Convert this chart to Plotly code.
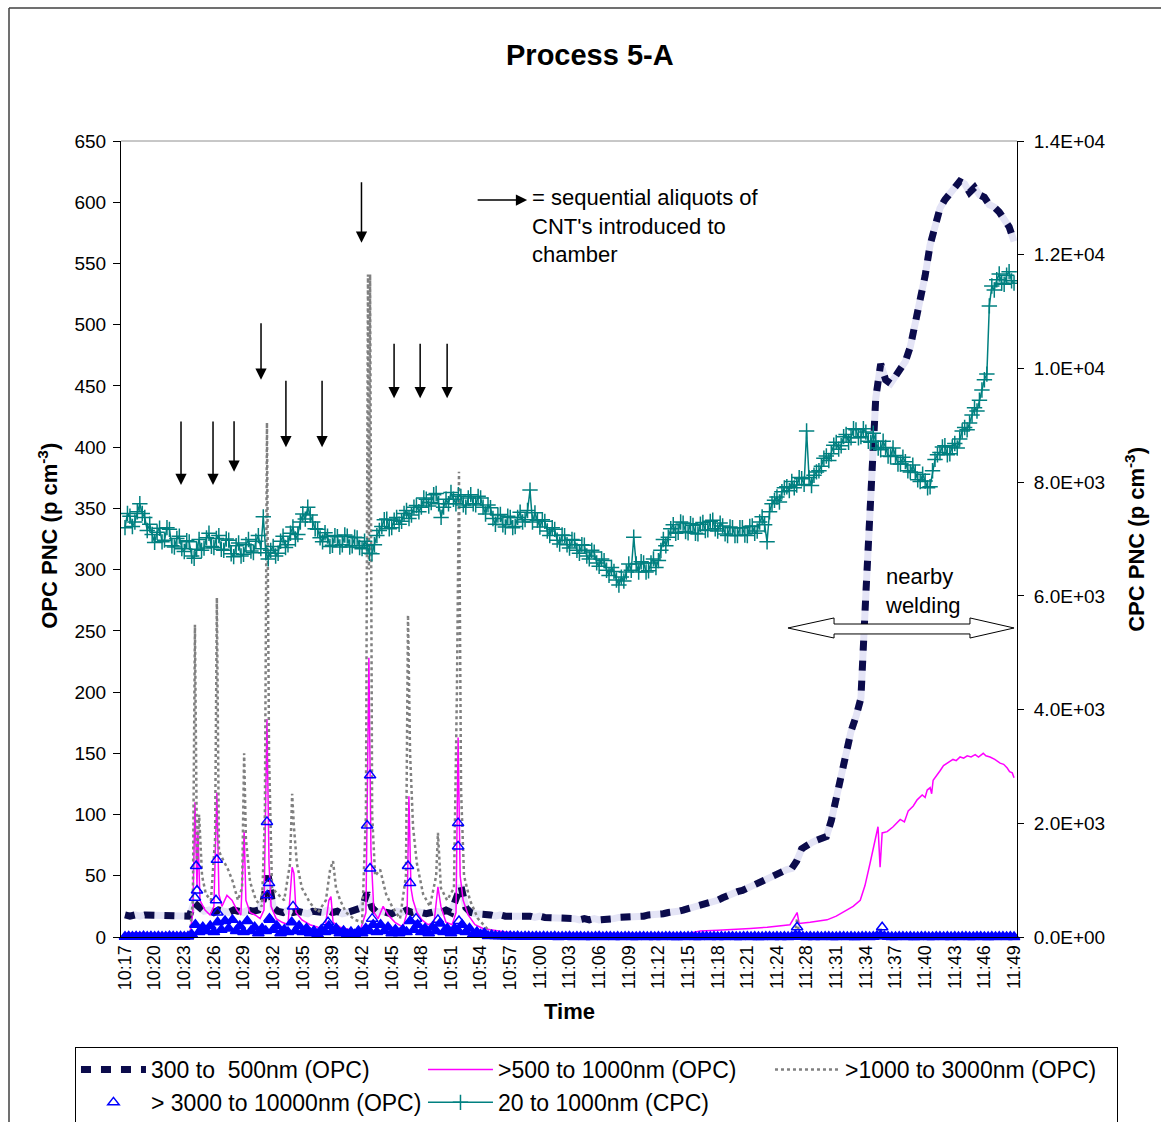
import numpy as np
import plotly.graph_objects as go

# ---------------------------------------------------------------- data
# Category labels of the time axis (one label every tick interval).
TICK_LABELS = ["10:17", "10:20", "10:23", "10:26", "10:29", "10:32", "10:35",
               "10:39", "10:42", "10:45", "10:48", "10:51", "10:54", "10:57",
               "11:00", "11:03", "11:06", "11:09", "11:12", "11:15", "11:18",
               "11:21", "11:24", "11:28", "11:31", "11:34", "11:37", "11:40",
               "11:43", "11:46", "11:49"]

# CPC 20-1000 nm, p/cm3 (12 samples per tick interval)
cpc_20_1000 = [
    7200, 7450, 7400, 7220, 7300, 7480, 7620, 7450, 7380, 7150,
    7260, 7080, 6940, 7120, 7190, 6950, 6980, 7200, 7170, 6880,
    6860, 7010, 7050, 6830, 6780, 6970, 6950, 6700, 6660, 6820,
    6990, 6800, 6840, 7020, 7100, 6870, 6850, 7010, 7060, 6820,
    6800, 7000, 6980, 6740, 6690, 6880, 6930, 6700, 6730, 6900,
    6990, 6790, 6760, 6960, 7060, 6830, 7390, 6760, 6650, 6800,
    6870, 6700, 6750, 6960, 7050, 6850, 6900, 7100, 7210, 7000,
    7080, 7300, 7440, 7350, 7560, 7420, 7300, 7180, 7170, 7020,
    6950, 7110, 7050, 6870, 6890, 7060, 7040, 6860, 6900, 7070,
    7050, 6860, 6880, 7030, 7020, 6850, 6830, 6960, 6880, 6750,
    6740, 6900, 7060, 7150, 7220, 7340, 7350, 7180, 7200, 7330,
    7380, 7260, 7310, 7450, 7500, 7360, 7420, 7560, 7590, 7480,
    7560, 7720, 7700, 7580, 7640, 7780, 7800, 7620, 7380, 7560,
    7700, 7620, 7820, 7700, 7620, 7780, 7750, 7600, 7560, 7720,
    7780, 7620, 7600, 7750, 7720, 7560, 7440, 7600, 7550, 7360,
    7260, 7420, 7430, 7250, 7210, 7400, 7380, 7200, 7220, 7380,
    7470, 7300, 7340, 7500, 7860, 7300, 7460, 7330, 7210, 7340,
    7310, 7140, 7060, 7200, 7170, 6980, 6910, 7070, 7060, 6900,
    6840, 6990, 6980, 6800, 6750, 6900, 6890, 6700, 6650, 6800,
    6770, 6580, 6520, 6650, 6620, 6450, 6360, 6500, 6430, 6280,
    6190, 6330, 6260, 6420, 6560, 6450, 7030, 6560, 6420, 6600,
    6580, 6420, 6440, 6580, 6650, 6500, 6620, 6800, 6990, 6880,
    7030, 7180, 7250, 7100, 7120, 7300, 7280, 7130, 7110, 7270,
    7240, 7100, 7090, 7260, 7290, 7150, 7160, 7310, 7330, 7180,
    7140, 7280, 7230, 7090, 7060, 7210, 7200, 7060, 7060, 7200,
    7200, 7070, 7060, 7220, 7230, 7100, 7140, 7300, 7390, 7250,
    6950, 7480, 7620, 7680, 7740, 7650, 7830, 7900, 7920, 7850,
    8010, 7900, 7950, 8080, 8060, 7960, 8900, 8080, 7940, 8120,
    8180, 8200, 8280, 8420, 8460, 8380, 8500, 8650, 8700, 8580,
    8640, 8800, 8840, 8700, 8780, 8940, 8920, 8780, 8800, 8940,
    8880, 8720, 8700, 8860, 8720, 8600, 8570, 8720, 8610, 8460,
    8450, 8600, 8470, 8320, 8320, 8440, 8360, 8200, 8180, 8300,
    8170, 8040, 8010, 8140, 8020, 7900, 7920, 8200, 8400, 8480,
    8520, 8620, 8640, 8480, 8500, 8620, 8680, 8600, 8760, 8900,
    8960, 8920, 9040, 9180, 9310, 9250, 9440, 9620, 9800, 9900,
    11100, 11450, 11380, 11560, 11660, 11500, 11480, 11640, 11700, 11540,
    11500,
]

# OPC 300-500 nm, p/cm3 (6 samples per tick interval)
opc_300_500 = [
    18, 17, 18, 17, 18, 18, 17, 17, 18, 18, 17, 18, 18, 17,
    28, 24,
    21, 22, 20, 22, 21, 20, 22, 21, 20, 22, 21, 22,
    30, 50, 24,
    21, 20, 22, 20, 21, 20, 19, 21, 20, 20, 22, 20, 21, 19, 20, 21, 22,
    24, 36, 24,
    20, 21, 20, 19, 21, 20, 22, 20, 21, 20, 19, 20, 21, 20, 22, 20,
    30, 42, 24,
    20, 19, 19, 18, 18, 17, 18, 17, 17, 18, 17,
    17, 17, 16, 17, 16, 16, 15, 16, 15, 15, 15, 14, 15, 14, 15, 14,
    14, 15, 15, 16, 16, 16, 16,
    17, 17, 18, 18, 18, 19, 20,
    20, 21, 22, 23, 24, 25,
    26, 27, 29, 30, 32, 34, 36,
    37, 38, 40, 42, 43, 45, 48,
    49, 51, 53, 55, 56,
    62, 72, 75, 77, 79, 80, 82, 95, 115, 132, 155, 168, 180, 195,
    280, 350, 440, 468, 455, 452, 458, 463, 470, 482, 500, 520, 540, 565,
    580, 595, 602, 608, 612, 617, 615, 608, 612, 606, 604, 598, 596, 592,
    587, 580, 568,
]

# OPC >500-1000 nm: (position in tick units, p/cm3)
opc_500_1000 = [
    (0.00, 3), (0.50, 3.5), (1.00, 2.8), (1.50, 3.2), (2.19, 3), (2.29, 20),
    (2.36, 110), (2.43, 40), (2.46, 87), (2.53, 30), (2.70, 22), (2.87, 18),
    (3.00, 25), (3.10, 118), (3.17, 35), (3.27, 25), (3.44, 34), (3.61, 30),
    (3.78, 22), (3.91, 18), (4.02, 86), (4.08, 30), (4.22, 20), (4.39, 18),
    (4.56, 15), (4.69, 22), (4.79, 178), (4.86, 60), (4.93, 25), (5.10, 15),
    (5.30, 12), (5.50, 10), (5.64, 57), (5.70, 52), (5.77, 20), (5.97, 14),
    (6.24, 10), (6.51, 8), (6.75, 7), (6.88, 30), (6.95, 33), (7.02, 12),
    (7.26, 8), (7.59, 6), (7.93, 5), (8.13, 20), (8.23, 228), (8.30, 70),
    (8.40, 20), (8.54, 15), (8.71, 25), (8.88, 18), (9.11, 12), (9.38, 8),
    (9.52, 20), (9.58, 115), (9.65, 40), (9.72, 30), (9.85, 20), (10.02, 14),
    (10.23, 10), (10.43, 12), (10.56, 41), (10.66, 25), (10.83, 12),
    (11.04, 10), (11.17, 20), (11.24, 163), (11.31, 50), (11.41, 30),
    (11.58, 18), (11.81, 10), (12.08, 7), (12.49, 5), (12.82, 4), (13.33, 3),
    (15.00, 3.2), (17.00, 2.9), (19.07, 3), (19.41, 5), (20.00, 5.5),
    (20.52, 6), (21.10, 7), (21.67, 8), (22.10, 9), (22.44, 10), (22.68, 20),
    (22.75, 11), (23.12, 12), (23.40, 13), (23.69, 14), (24.00, 17),
    (24.23, 20), (24.57, 25), (24.81, 30), (24.97, 42), (25.14, 60),
    (25.31, 78), (25.41, 90), (25.48, 57), (25.55, 85), (25.72, 86),
    (25.92, 90), (26.16, 96), (26.30, 94), (26.43, 103), (26.60, 107),
    (26.73, 112), (26.90, 116), (27.00, 114), (27.07, 120), (27.17, 122),
    (27.22, 117), (27.27, 128), (27.40, 132), (27.51, 136), (27.62, 140),
    (27.74, 142), (27.94, 145), (28.05, 144), (28.18, 147), (28.30, 146),
    (28.42, 148), (28.55, 147), (28.69, 149), (28.80, 147), (28.96, 150),
    (29.05, 148), (29.19, 147), (29.35, 145), (29.53, 142), (29.65, 141),
    (29.77, 138), (29.85, 135), (29.94, 134), (30.00, 130),
]

# OPC >1000-3000 nm: (position in tick units, p/cm3)
opc_1000_3000 = [
    (0.00, 2), (1.00, 2), (2.19, 2), (2.29, 30), (2.36, 255), (2.43, 60),
    (2.50, 100), (2.60, 50), (2.73, 35), (2.90, 30), (3.04, 80), (3.10, 277),
    (3.17, 70), (3.31, 63), (3.48, 55), (3.64, 45), (3.81, 30), (3.95, 40),
    (4.02, 150), (4.08, 80), (4.22, 45), (4.42, 30), (4.62, 25), (4.72, 100),
    (4.79, 420), (4.86, 150), (4.96, 40), (5.16, 35), (5.37, 30), (5.57, 60),
    (5.64, 117), (5.70, 90), (5.80, 60), (5.97, 40), (6.24, 28), (6.51, 20),
    (6.78, 30), (6.92, 55), (7.02, 62), (7.12, 40), (7.26, 30), (7.46, 20),
    (7.76, 14), (8.00, 12), (8.13, 100), (8.20, 541), (8.23, 300),
    (8.27, 541), (8.34, 100), (8.44, 50), (8.61, 55), (8.81, 35), (9.01, 25),
    (9.28, 15), (9.48, 50), (9.55, 263), (9.62, 150), (9.72, 90), (9.85, 60),
    (10.06, 35), (10.29, 25), (10.50, 50), (10.56, 85), (10.66, 40),
    (10.87, 30), (11.10, 40), (11.20, 200), (11.27, 380), (11.34, 120),
    (11.44, 50), (11.64, 30), (11.91, 15), (12.25, 6), (12.66, 2), (16.00, 2),
    (20.00, 2), (22.61, 2), (22.68, 15), (22.75, 2), (25.41, 2), (25.48, 8),
    (25.55, 2), (30.00, 2),
]

# OPC >3000-10000 nm, p/cm3 (8 samples per tick interval)
opc_3000_10000 = [
    0.3, 0.5, 0.2, 0.4, 0.3, 0.6, 0.2, 0.4, 0.3, 0.5, 0.2, 0.3, 0.6, 0.4,
    0.2, 0.5, 0.3, 0.4,
    2, 10, 4, 8, 5, 9, 4, 12, 6, 13, 7, 14, 5, 9, 4, 13, 5, 8, 3, 7,
    5, 15, 6, 9, 3, 6, 4, 12, 5, 9, 4, 7, 3, 5, 2, 6, 4, 9, 5, 7,
    3, 5, 2, 4, 2, 5, 3, 7, 5, 10, 4, 10, 5, 8, 3, 6, 3, 6, 4, 13,
    6, 10, 4, 7, 3, 8, 5, 11, 4, 7, 3, 7, 5, 10, 4, 7, 2, 4, 2, 3,
    0.8, 1.5,
    0.9, 0.6, 0.8, 0.5, 0.7, 0.4, 0.6, 0.3, 0.5, 0.4,
    0.3, 0.5, 0.2, 0.4, 0.3, 0.2, 0.4, 0.1, 0.3, 0.2,
    0.4, 0.1, 0.3, 0.2, 0.0, 0.3, 0.1, 0.2, 0.4, 0.1,
    0.2, 0.3, 0.0, 0.2, 0.1, 0.3, 0.2, 0.0, 0.1, 0.3,
    0.2, 0.1, 0.3, 0.0, 0.2, 0.1, 0.2, 0.3, 0.1, 0.0,
    0.2, 0.1, 0.3, 0.2, 0.0, 0.1, 0.2, 0.3, 0.1, 0.2,
    0.0, 0.2, 0.1, 0.3, 0.2, 0.1, 0.0, 0.2, 0.3, 0.1,
    0.2, 0.0, 0.1, 0.3, 0.2, 0.1, 0.2, 0.0, 0.3, 0.1,
    0.2, 1.5, 1.0, 0.3, 0.1, 0.2, 0.0, 0.2, 0.1, 0.3,
    0.2, 0.1, 0.0, 0.2, 0.3, 0.1, 0.2, 0.0, 0.1, 0.3,
    0.2, 0.1, 0.3, 0.8, 1.2, 0.6, 0.2, 0.1, 0.0, 0.2,
    0.3, 0.1, 0.2, 0.0, 0.1, 0.3, 0.2, 0.1, 0.0, 0.2,
    0.3, 0.1, 0.2, 0.0, 0.2, 0.1, 0.3, 0.2, 0.0, 0.1,
    0.2, 0.3, 0.1, 0.0, 0.2, 0.1, 0.3, 0.2, 0.1, 0.2,
    0.1,
]
# short bursts of the same channel between the regular samples
opc_3000_10000_bursts = [
    (2.36, 32), (2.40, 58), (2.43, 38), (3.07, 30), (3.10, 63), (3.12, 20),
    (4.79, 94), (4.86, 44), (4.80, 34), (4.89, 14), (5.67, 25), (6.85, 12),
    (8.27, 132), (8.17, 91), (8.27, 56), (8.34, 15), (9.55, 58), (9.62, 44),
    (9.82, 15), (10.56, 14), (11.24, 93), (11.24, 74), (11.27, 13),
    (22.68, 8), (25.55, 8),
]

# times at which CNT aliquots were introduced (tick units)
aliquot_times = [1.89, 2.97, 3.68, 4.59, 5.43, 6.65, 7.98, 9.08, 9.96, 10.87]

# ---------------------------------------------------------------- styling
FONT = "Liberation Sans, Arial, sans-serif"
NAVY = "#0b0b4b"
LAVENDER = "#e4e4f6"
PINK = "#ff00ff"
GREY = "#808080"
BLUE = "#0000ff"
TEAL = "#008080"

# arrow tip height (left-axis units) and shaft length (px) for each aliquot
ARROW_TIPS = [(369, 65), (369, 65), (380, 52), (455, 58), (400, 68),
              (400, 68), (567, 62), (440, 56), (440, 56), (440, 56)]

x12 = np.arange(len(cpc_20_1000)) / 12.0
x6 = np.arange(len(opc_300_500)) / 6.0
x8 = np.arange(len(opc_3000_10000)) / 8.0
pink_x, pink_y = zip(*opc_500_1000)
grey_x, grey_y = zip(*opc_1000_3000)
burst_x, burst_y = zip(*opc_3000_10000_bursts)
# bursts first so the legend shows an open triangle; the dense regular
# samples pile up into a solid band, drawn as filled triangles
blue_x = np.concatenate([burst_x, x8])
blue_y = np.concatenate([burst_y, opc_3000_10000])
blue_sym = (["triangle-up-open"] * len(burst_x)
            + ["triangle-up"] * len(opc_3000_10000))

fig = go.Figure()

# thick dashed 300-500 nm line: pale band underneath, navy dashes on top
fig.add_trace(go.Scatter(
    x=x6, y=opc_300_500, mode="lines", showlegend=False, hoverinfo="skip",
    line=dict(color=LAVENDER, width=7)))
fig.add_trace(go.Scatter(
    x=x6, y=opc_300_500, mode="lines", name="300 to\u00a0 500nm (OPC)",
    line=dict(color=NAVY, width=7, dash="10px,10px")))
fig.add_trace(go.Scatter(
    x=pink_x, y=pink_y, mode="lines", name=">500 to 1000nm (OPC)",
    line=dict(color=PINK, width=1.5)))
fig.add_trace(go.Scatter(
    x=grey_x, y=grey_y, mode="lines", name=">1000 to 3000nm (OPC)",
    line=dict(color=GREY, width=2.5, dash="3px,3px")))
fig.add_trace(go.Scatter(
    x=blue_x, y=blue_y, mode="markers", name="> 3000 to 10000nm (OPC)",
    cliponaxis=False,
    marker=dict(symbol=blue_sym, size=10, color=BLUE,
                line=dict(width=1.5, color=BLUE))))
fig.add_trace(go.Scatter(
    x=x12, y=cpc_20_1000, yaxis="y2", mode="lines+markers",
    name="20 to 1000nm (CPC)",
    line=dict(color=TEAL, width=1.5),
    marker=dict(symbol="cross-thin", size=11, color=TEAL,
                line=dict(width=1.5, color=TEAL))))

annotations = [
    dict(text="<b>Process 5-A</b>", x=0.5234, y=1.108, xref="paper",
         yref="paper", xanchor="center", yanchor="middle", showarrow=False,
         font=dict(size=29, color="black")),
    dict(text="<b>OPC PNC (p cm<sup>-3</sup>)</b>", x=-0.0815, y=0.504,
         xref="paper", yref="paper", xanchor="center", yanchor="middle",
         showarrow=False, textangle=-90, font=dict(size=22, color="black")),
    dict(text="<b>CPC PNC (p cm<sup>-3</sup>)</b>", x=1.1317, y=0.499,
         xref="paper", yref="paper", xanchor="center", yanchor="middle",
         showarrow=False, textangle=-90, font=dict(size=22, color="black")),
    dict(text="<b>Time</b>", x=0.5, y=-0.0942, xref="paper", yref="paper",
         xanchor="center", yanchor="middle", showarrow=False,
         font=dict(size=22, color="black")),
    dict(text="= sequential aliquots of<br>CNT's introduced to<br>chamber",
         x=0.4565, y=0.8932, xref="paper", yref="paper", xanchor="left",
         yanchor="middle", align="left", showarrow=False,
         font=dict(size=22, color="black")),
    dict(text="nearby<br>welding", x=0.8504, y=0.4347, xref="paper",
         yref="paper", xanchor="left", yanchor="middle", align="left",
         showarrow=False, font=dict(size=22, color="black")),
    # key arrow next to the explanatory text
    dict(text="", x=13.57, y=601.8, xref="x", yref="y", ax=-51, ay=0,
         showarrow=True, arrowhead=2, arrowsize=1.5, arrowwidth=1.5,
         arrowcolor="black"),
]
for t, (tip, length) in zip(aliquot_times, ARROW_TIPS):
    annotations.append(dict(
        text="", x=t, y=tip, xref="x", yref="y", ax=0, ay=-length,
        showarrow=True, arrowhead=2, arrowsize=1.5, arrowwidth=1.5,
        arrowcolor="black"))

shapes = [
    # light frame line along the top of the plot area
    dict(type="line", xref="paper", yref="paper", x0=0, x1=1, y0=1, y1=1,
         line=dict(color="#909090", width=1)),
    # outer chart frame (left and top edges)
    dict(type="line", xref="paper", yref="paper", x0=-0.125, x1=-0.125,
         y0=1.167, y1=-0.25, line=dict(color="#404040", width=1.5)),
    dict(type="line", xref="paper", yref="paper", x0=-0.125, x1=1.2,
         y0=1.167, y1=1.167, line=dict(color="#404040", width=1.5)),
    # hollow double-headed arrow marking the welding period
    dict(type="path", xref="paper", yref="paper",
         path="M 0.7444 0.3882 L 0.7958 0.4008 L 0.7958 0.3932 "
              "L 0.9475 0.3932 L 0.9475 0.4008 L 0.9967 0.3882 "
              "L 0.9475 0.3756 L 0.9475 0.3807 L 0.7958 0.3807 "
              "L 0.7958 0.3756 Z",
         fillcolor="white", line=dict(color="black", width=1)),
]

fig.update_layout(
    width=1161, height=1122,
    margin=dict(l=121, r=144, t=141, b=185, autoexpand=False),
    paper_bgcolor="white", plot_bgcolor="white",
    font=dict(family=FONT, color="black"),
    showlegend=True,
    legend=dict(orientation="h", x=1.1127, y=-0.1382, xanchor="right",
                yanchor="top", bordercolor="black", borderwidth=1,
                bgcolor="white", font=dict(size=23, color="black"),
                itemwidth=65, entrywidth=267, entrywidthmode="pixels",
                traceorder="normal"),
    xaxis=dict(range=[-0.135, 30.1], tickmode="array",
               tickvals=list(range(len(TICK_LABELS))), ticktext=TICK_LABELS,
               tickangle=-90, tickfont=dict(size=18), showgrid=False,
               zeroline=False, showline=True, linecolor="black",
               linewidth=1, ticks=""),
    yaxis=dict(range=[0, 650], tickmode="linear", tick0=0, dtick=50,
               tickfont=dict(size=19), showgrid=False, zeroline=False,
               showline=True, linecolor="black", linewidth=1,
               ticks="outside", ticklen=7, tickcolor="black",
               ticklabelstandoff=3),
    yaxis2=dict(range=[0, 14000], overlaying="y", side="right",
                tickmode="array",
                tickvals=[0, 2000, 4000, 6000, 8000, 10000, 12000, 14000],
                ticktext=["0.0E+00", "2.0E+03", "4.0E+03", "6.0E+03",
                          "8.0E+03", "1.0E+04", "1.2E+04", "1.4E+04"],
                tickfont=dict(size=19), showgrid=False, zeroline=False,
                showline=True, linecolor="black", linewidth=1,
                ticks="outside", ticklen=6, tickcolor="black",
                ticklabelstandoff=6),
    annotations=annotations,
    shapes=shapes,
)

fig.write_html("out.html")
